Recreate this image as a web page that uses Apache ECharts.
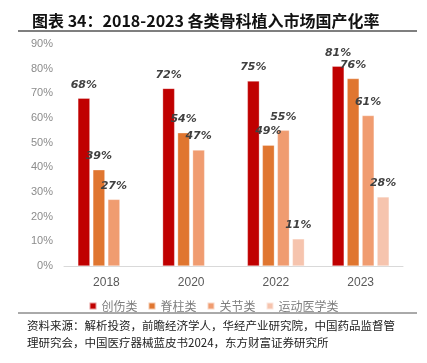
<!DOCTYPE html>
<html><head><meta charset="utf-8">
<script src="https://cdn.jsdelivr.net/npm/echarts@6/dist/echarts.min.js"></script>
<style>html,body{margin:0;padding:0;background:#fff}#c{width:427px;height:363px}</style>
</head><body><div id="c"></div>
<script>
const categories = ['2018', '2020', '2022', '2023'];
const trauma = [68, 72, 75, 81];
const spine = [39, 54, 49, 76];
const joint = [27, 47, 55, 61];
const sports = [null, null, 11, 28];
const seriesNames = ['创伤类', '脊柱类', '关节类', '运动医学类'];
const yTicks = [0, 10, 20, 30, 40, 50, 60, 70, 80, 90];

const colors = ['#C00000', '#E07630', '#F09C70', '#F6C4AE'];
const chart = echarts.init(document.getElementById('c'), null, {renderer: 'canvas'});
const lbl = {
  show: true, position: 'top', distance: 8,
  formatter: p => p.value == null ? '' : p.value + '%',
  fontStyle: 'italic', fontWeight: 'bold', fontSize: 11,
  color: '#404040', fontFamily: 'DejaVu Sans'
};
function mk(name, data, i) {
  return {
    name, type: 'bar', data, barWidth: 12, barGap: '25%',
    itemStyle: {color: colors[i], borderColor: 'rgba(255,255,255,0.6)', borderWidth: 0.5},
    label: Object.assign({}, lbl)
  };
}
chart.setOption({
  animation: false,
  title: {
    text: '图表 34：2018-2023 各类骨科植入市场国产化率',
    left: 27, top: 8,
    textStyle: {fontSize: 16, fontWeight: 'bold', color: '#111', fontFamily: 'Noto Sans CJK SC'}
  },
  graphic: [
    {type: 'line', shape: {x1: 18, y1: 31, x2: 417, y2: 31}, style: {stroke: '#555', lineWidth: 1.5}},
    {type: 'line', shape: {x1: 18, y1: 313, x2: 417, y2: 313}, style: {stroke: '#555', lineWidth: 1}},
    {type: 'text', left: 27, top: 317, style: {text: '资料来源：解析投资，前瞻经济学人，华经产业研究院，中国药品监督管\n理研究会，中国医疗器械蓝皮书2024，东方财富证券研究所', font: '11.5px "Noto Sans CJK SC"', fill: '#222', lineHeight: 17}}
  ],
  legend: {
    data: seriesNames, top: 295, left: 'center',
    itemWidth: 7, itemHeight: 7, itemGap: 10,
    icon: 'rect',
    textStyle: {fontSize: 12, color: '#7f7f7f', fontFamily: 'Noto Sans CJK SC'}
  },
  grid: {left: 64, right: 24, top: 44, bottom: 97},
  xAxis: {
    type: 'category', data: categories,
    axisLine: {lineStyle: {color: '#d9d9d9'}},
    axisTick: {show: false},
    axisLabel: {color: '#595959', fontSize: 12, margin: 11, fontFamily: 'Liberation Sans'}
  },
  yAxis: {
    type: 'value', min: yTicks[0], max: yTicks[yTicks.length - 1], interval: 10,
    splitLine: {show: false}, axisLine: {show: false}, axisTick: {show: false},
    axisLabel: {formatter: v => v + '%', color: '#8c8c8c', fontSize: 11, margin: 11, fontFamily: 'Liberation Sans'}
  },
  series: [
    mk(seriesNames[0], trauma, 0),
    mk(seriesNames[1], spine, 1),
    mk(seriesNames[2], joint, 2),
    mk(seriesNames[3], sports, 3)
  ]
});
</script></body></html>
